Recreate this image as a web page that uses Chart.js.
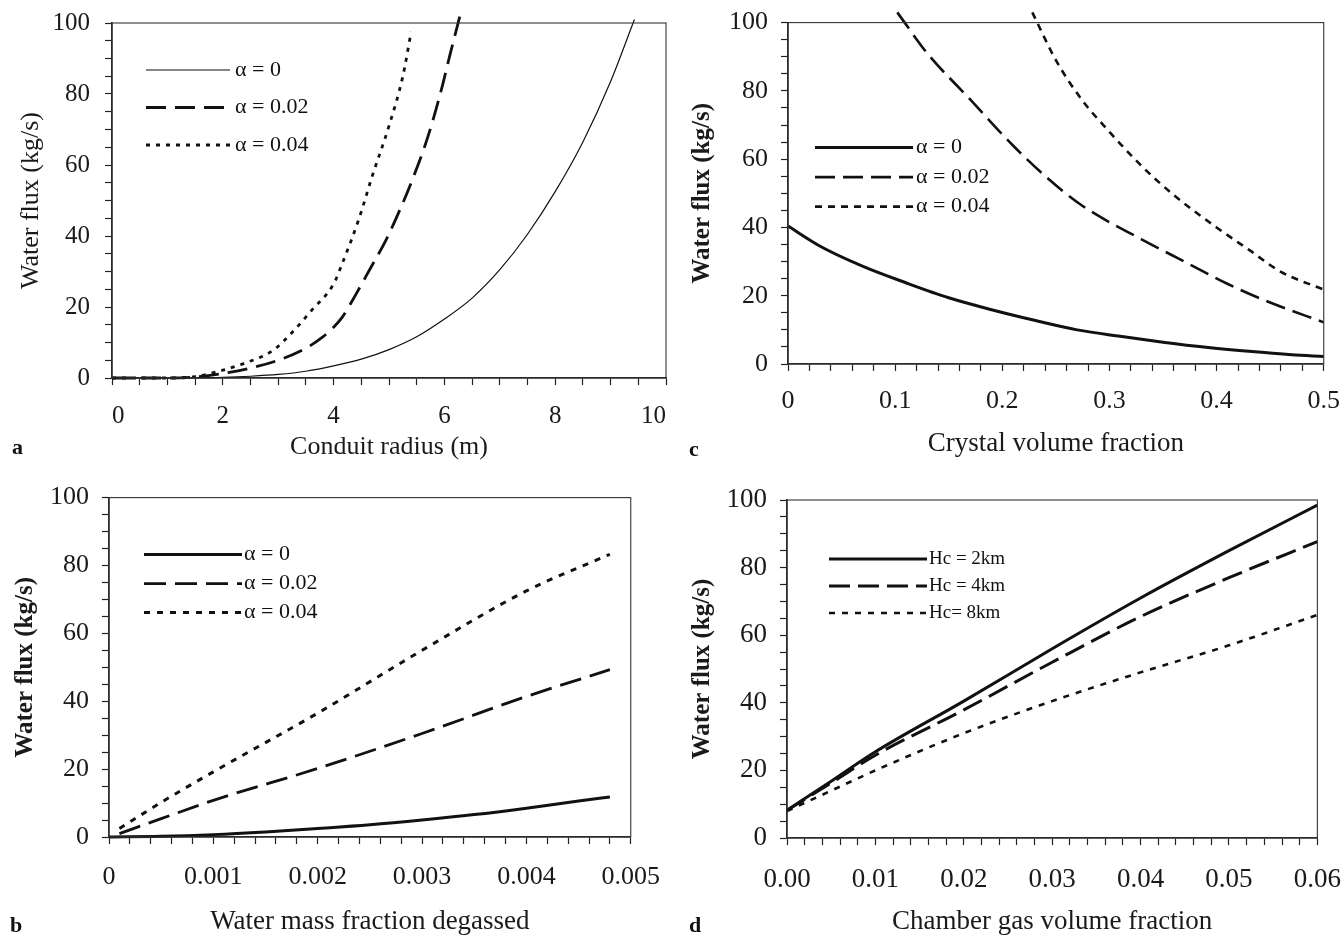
<!DOCTYPE html>
<html>
<head>
<meta charset="utf-8">
<script src="https://cdn.jsdelivr.net/npm/chart.js@4.4.1/dist/chart.umd.min.js"></script>
<style>
  html, body { margin: 0; padding: 0; background: #fff; overflow: hidden; }
  body { width: 1342px; height: 935px; position: relative; }
  canvas { position: absolute; }
  .tag { position: absolute; font: bold 22px "Liberation Serif", "Times New Roman", serif; color: #111; line-height: 1; }
</style>
</head>
<body>
<canvas id="panelA"></canvas>
<canvas id="panelC"></canvas>
<canvas id="panelB"></canvas>
<canvas id="panelD"></canvas>
<div class="tag" style="left:12px;top:436px">a</div>
<div class="tag" style="left:689px;top:438px">c</div>
<div class="tag" style="left:10px;top:914px">b</div>
<div class="tag" style="left:689px;top:914px">d</div>
<script>
const SERIF = '"Liberation Serif", "Times New Roman", serif';
const INK = '#111';

// shared flux axis
const fluxMajors = [0, 20, 40, 60, 80, 100];

// a: water flux vs conduit radius
const radiusMajors = [0, 2, 4, 6, 8, 10];
const radiusLabels = ['0', '2', '4', '6', '8', '10'];
const radiusA0 = [0, 1, 1.5, 2, 2.5, 3, 3.5, 4, 4.5, 5, 5.5, 6, 6.5, 7, 7.5, 8, 8.5, 9, 9.43];
const fluxA0 = [0, 0, 0.05, 0.2, 0.5, 1.0, 1.9, 3.4, 5.3, 8.0, 11.6, 16.6, 22.5, 30.5, 40.5, 52.5, 66.5, 83.5, 101];
const radiusA2 = [0, 1, 1.5, 2, 2.5, 3, 3.5, 3.8, 4.0, 4.15, 4.4, 4.65, 4.95, 5.2, 5.4, 5.65, 5.8, 5.95, 6.1, 6.28];
const fluxA2 = [0, 0, 0.3, 1.3, 2.8, 5.0, 8.4, 11.5, 14.3, 17, 23.5, 30.5, 39, 47.5, 55, 65.5, 73, 81.5, 91, 102];
const radiusA4 = [0, 1, 1.5, 2, 2.4, 2.9, 3.2, 3.6, 4.0, 4.15, 4.45, 4.7, 5.0, 5.25, 5.4];
const fluxA4 = [0, 0, 0.4, 2.2, 4.2, 7.7, 12.0, 19, 26.5, 32, 44.5, 57, 71, 85, 97.5];

// c: water flux vs crystal volume fraction
const crystalMajors = [0, 0.1, 0.2, 0.3, 0.4, 0.5];
const crystalLabels = ['0', '0.1', '0.2', '0.3', '0.4', '0.5'];
const crystalC0 = [0, 0.03, 0.07, 0.11, 0.15, 0.19, 0.23, 0.27, 0.31, 0.35, 0.39, 0.43, 0.47, 0.5];
const fluxC0 = [40.4, 34.5, 28.6, 23.8, 19.4, 15.9, 12.8, 10.0, 8.1, 6.4, 4.9, 3.7, 2.7, 2.2];
const crystalC2 = [0.102, 0.13, 0.17, 0.21, 0.242, 0.274, 0.33, 0.37, 0.41, 0.45, 0.5];
const fluxC2 = [103, 91, 77.5, 64, 54.5, 46.5, 36.5, 30, 23.5, 18, 12.2];
const crystalC4 = [0.228, 0.25, 0.274, 0.3, 0.33, 0.36, 0.4, 0.43, 0.46, 0.5];
const fluxC4 = [103, 89, 77.5, 68, 58, 49.5, 40, 33.5, 27, 21.8];

// b: water flux vs water mass fraction degassed
const massMajors = [0, 0.001, 0.002, 0.003, 0.004, 0.005];
const massLabels = ['0', '0.001', '0.002', '0.003', '0.004', '0.005'];
const massB0 = [0, 0.0005, 0.001, 0.0015, 0.002, 0.0025, 0.003, 0.0035, 0.004, 0.0045, 0.0048];
const fluxB0 = [0, 0.2, 0.7, 1.5, 2.5, 3.6, 5.0, 6.6, 8.5, 10.6, 11.8];
const massB2 = [0.0001, 0.0005, 0.001, 0.002, 0.003, 0.004, 0.0048];
const fluxB2 = [1, 5.4, 10.8, 20.2, 30.5, 41.4, 49.3];
const massB4 = [0.0001, 0.0005, 0.001, 0.002, 0.003, 0.004, 0.0048];
const fluxB4 = [2.5, 10.2, 19.2, 36.5, 55, 72.5, 83.3];

// d: water flux vs chamber gas volume fraction
const gasMajors = [0, 0.01, 0.02, 0.03, 0.04, 0.05, 0.06];
const gasLabels = ['0.00', '0.01', '0.02', '0.03', '0.04', '0.05', '0.06'];
const gasD = [0, 0.005, 0.01, 0.02, 0.03, 0.04, 0.05, 0.06];
const fluxD2 = [8.2, 16.8, 25.5, 40.5, 56, 71, 85, 98.5];
const fluxD4 = [8.2, 16.3, 24.5, 37.9, 52, 65.5, 77, 87.7];
const fluxD8 = [8, 14, 20, 31, 40.5, 49, 57, 66];

function pts(xs, ys) {
    return xs.map((x, i) => ({ x: x, y: ys[i] }));
}

function tickRange(min, max, step) {
    const out = [];
    const n = Math.round((max - min) / step);
    for (let i = 0; i <= n; i++) {
        out.push({ value: +(min + i * step).toFixed(8) });
    }
    return out;
}

function majorLabel(value, majors, labels) {
    const i = majors.findIndex(m => Math.abs(m - value) < 1e-9);
    return i >= 0 ? labels[i] : '';
}

function series(label, xs, ys, width, dash) {
    return {
        label: label,
        data: pts(xs, ys),
        showLine: true,
        borderColor: INK,
        borderWidth: width,
        borderDash: dash,
        pointRadius: 0,
        cubicInterpolationMode: 'monotone',
        clip: { left: 2, right: 2, top: 12, bottom: 2 }
    };
}

// box around the plot area
const framePlugin = {
    id: 'frame',
    afterDraw(chart) {
        const { ctx, chartArea: a } = chart;
        ctx.save();
        ctx.strokeStyle = '#333';
        ctx.lineWidth = 1.1;
        ctx.strokeRect(a.left, a.top, a.right - a.left, a.bottom - a.top);
        ctx.restore();
    }
};

// line samples with labels, inside the plot
const keyPlugin = {
    id: 'key',
    afterDraw(chart, args, opts) {
        if (!opts || !opts.top) return;
        const { ctx, chartArea: a } = chart;
        ctx.save();
        ctx.font = opts.font;
        ctx.fillStyle = INK;
        ctx.strokeStyle = INK;
        ctx.textBaseline = 'middle';
        chart.data.datasets.forEach((ds, i) => {
            const y = a.top + opts.top + i * opts.gap;
            ctx.beginPath();
            ctx.setLineDash(ds.borderDash || []);
            ctx.lineWidth = ds.borderWidth;
            ctx.moveTo(a.left + opts.x0, y);
            ctx.lineTo(a.left + opts.x1, y);
            ctx.stroke();
            ctx.setLineDash([]);
            ctx.fillText(ds.label, a.left + opts.xText, y);
        });
        ctx.restore();
    }
};

function buildConfig(spec, g) {
    const tickFont = { family: SERIF, size: spec.tickSize };
    const grid = { drawOnChartArea: false, drawTicks: true, tickLength: 7, tickWidth: 1.2, tickColor: '#222' };
    const border = { display: true, color: '#222', width: 1.6 };
    return {
        type: 'scatter',
        data: { datasets: spec.datasets },
        options: {
            responsive: false,
            maintainAspectRatio: false,
            animation: false,
            events: [],
            devicePixelRatio: 1,
            layout: { padding: { top: g.padTop, right: g.padRight, left: 0, bottom: 0 } },
            plugins: {
                legend: { display: false },
                tooltip: { enabled: false },
                key: spec.key
            },
            scales: {
                x: {
                    type: 'linear',
                    min: spec.x.min,
                    max: spec.x.max,
                    afterBuildTicks: s => { s.ticks = tickRange(spec.x.min, spec.x.max, spec.x.minor); },
                    afterFit: s => { s.height = g.xHeight; },
                    grid: grid,
                    border: border,
                    ticks: {
                        autoSkip: false, maxRotation: 0, minRotation: 0,
                        padding: spec.x.pad,
                        align: spec.x.align || 'center',
                        color: '#1a1a1a',
                        font: tickFont,
                        callback: v => majorLabel(v, spec.x.majors, spec.x.labels)
                    },
                    title: {
                        display: true,
                        text: spec.x.title,
                        color: '#1a1a1a',
                        font: { family: SERIF, size: spec.titleSize, lineHeight: 1 },
                        padding: { top: 0, bottom: spec.x.titlePad }
                    }
                },
                y: {
                    type: 'linear',
                    min: 0,
                    max: 100,
                    afterBuildTicks: s => { s.ticks = tickRange(0, 100, 5); },
                    afterFit: s => { s.width = g.yWidth; },
                    grid: grid,
                    border: border,
                    ticks: {
                        autoSkip: false,
                        padding: spec.y.pad,
                        color: '#1a1a1a',
                        font: tickFont,
                        callback: v => majorLabel(v, fluxMajors, fluxMajors.map(String))
                    },
                    title: {
                        display: true,
                        text: 'Water flux (kg/s)',
                        color: '#1a1a1a',
                        font: { family: SERIF, size: spec.yTitleSize || spec.titleSize, weight: spec.y.weight, lineHeight: 1 },
                        padding: { top: spec.y.titlePad, bottom: 0 }
                    }
                }
            }
        },
        plugins: [framePlugin, keyPlugin]
    };
}

// draws one panel and nudges the canvas until the plot area sits on `plot`
function panel(id, box, plot, spec) {
    const canvas = document.getElementById(id);
    const g = {
        yWidth: plot.l - box.x,
        xHeight: box.y + box.h - plot.b,
        padTop: plot.t - box.y,
        padRight: box.x + box.w - plot.r
    };
    let x = box.x, y = box.y, w = box.w, h = box.h;
    let chart = null;
    for (let pass = 0; pass < 4; pass++) {
        if (chart) chart.destroy();
        canvas.width = Math.round(w);
        canvas.height = Math.round(h);
        canvas.style.left = Math.round(x) + 'px';
        canvas.style.top = Math.round(y) + 'px';
        chart = new Chart(canvas, buildConfig(spec, g));
        const a = chart.chartArea;
        const dl = (x + a.left) - plot.l;
        const dt = (y + a.top) - plot.t;
        const dr = plot.r - (x + a.right);
        const db = plot.b - (y + a.bottom);
        if (Math.abs(dl) + Math.abs(dt) + Math.abs(dr) + Math.abs(db) < 1) break;
        x -= dl;
        w += dl + dr;
        y -= dt;
        h += dt + db;
    }
    return chart;
}

document.addEventListener('DOMContentLoaded', () => {
    panel('panelA', { x: 0, y: 0, w: 672, h: 470 }, { l: 112, t: 23, r: 666, b: 378 }, {
        tickSize: 25, titleSize: 26, yTitleSize: 26,
        datasets: [
            series('\u03b1 = 0', radiusA0, fluxA0, 1.2, []),
            series('\u03b1 = 0.02', radiusA2, fluxA2, 2.8, [20, 9]),
            series('\u03b1 = 0.04', radiusA4, fluxA4, 2.8, [4, 6])
        ],
        key: { top: 47, gap: 37.5, x0: 34, x1: 118, xText: 123, font: '22px ' + SERIF },
        x: { min: 0, max: 10, minor: 0.5, majors: radiusMajors, labels: radiusLabels, pad: 16, align: 'inner', title: 'Conduit radius (m)', titlePad: 10 },
        y: { pad: 15, titlePad: 18, weight: 'normal' }
    });

    panel('panelC', { x: 672, y: 0, w: 670, h: 470 }, { l: 788, t: 23, r: 1324, b: 364 }, {
        tickSize: 26, titleSize: 27, yTitleSize: 25,
        datasets: [
            series('\u03b1 = 0', crystalC0, fluxC0, 3, []),
            series('\u03b1 = 0.02', crystalC2, fluxC2, 2.6, [20, 8]),
            series('\u03b1 = 0.04', crystalC4, fluxC4, 2.6, [7, 6])
        ],
        key: { top: 125, gap: 29.5, x0: 27, x1: 125, xText: 128, font: '22px ' + SERIF },
        x: { min: 0, max: 0.5, minor: 0.02, majors: crystalMajors, labels: crystalLabels, pad: 15, title: 'Crystal volume fraction', titlePad: 13 },
        y: { pad: 13, titlePad: 18, weight: 'bold' }
    });

    panel('panelB', { x: 0, y: 470, w: 672, h: 465 }, { l: 109, t: 498, r: 631, b: 837 }, {
        tickSize: 26, titleSize: 27, yTitleSize: 25,
        datasets: [
            series('\u03b1 = 0', massB0, fluxB0, 3, []),
            series('\u03b1 = 0.02', massB2, fluxB2, 2.8, [22, 9]),
            series('\u03b1 = 0.04', massB4, fluxB4, 3, [6, 7])
        ],
        key: { top: 57, gap: 29, x0: 35, x1: 133, xText: 135, font: '22px ' + SERIF },
        x: { min: 0, max: 0.005, minor: 0.0002, majors: massMajors, labels: massLabels, pad: 18, title: 'Water mass fraction degassed', titlePad: 0 },
        y: { pad: 13, titlePad: 13, weight: 'bold' }
    });

    panel('panelD', { x: 672, y: 470, w: 670, h: 465 }, { l: 787, t: 500, r: 1317, b: 838 }, {
        tickSize: 27, titleSize: 27, yTitleSize: 25,
        datasets: [
            series('Hc = 2km', gasD, fluxD2, 3, []),
            series('Hc = 4km', gasD, fluxD4, 3, [21, 8]),
            series('Hc= 8km', gasD, fluxD8, 2.6, [6, 7])
        ],
        key: { top: 59, gap: 27, x0: 42, x1: 140, xText: 142, font: '19px ' + SERIF },
        x: { min: 0, max: 0.06, minor: 0.002, majors: gasMajors, labels: gasLabels, pad: 19, title: 'Chamber gas volume fraction', titlePad: 0 },
        y: { pad: 13, titlePad: 18, weight: 'bold' }
    });
});
</script>
</body>
</html>
